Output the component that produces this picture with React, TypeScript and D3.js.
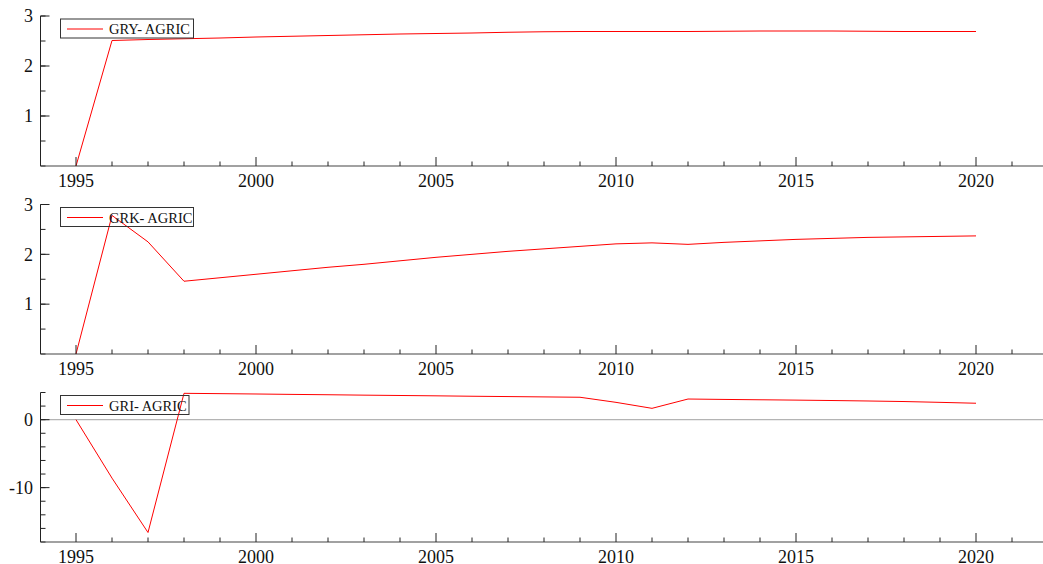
import React from "react";
import * as d3 from "d3";

const years = d3.range(1995, 2021);

const gry = [0, 2.51, 2.53, 2.545, 2.56, 2.58, 2.595, 2.61, 2.625, 2.64, 2.65, 2.66, 2.675, 2.685, 2.69, 2.69, 2.69, 2.69, 2.695, 2.7, 2.7, 2.7, 2.695, 2.69, 2.69, 2.69];
const grk = [0, 2.78, 2.25, 1.46, 1.53, 1.6, 1.67, 1.74, 1.8, 1.87, 1.94, 2.0, 2.06, 2.11, 2.16, 2.21, 2.23, 2.2, 2.24, 2.27, 2.3, 2.32, 2.34, 2.35, 2.36, 2.37];
const gri = [0, -8.6, -16.6, 3.88, 3.83, 3.78, 3.72, 3.67, 3.61, 3.56, 3.51, 3.45, 3.4, 3.35, 3.3, 2.55, 1.67, 3.04, 2.98, 2.93, 2.88, 2.82, 2.75, 2.67, 2.55, 2.42];

const xTickLabels = [1995, 2000, 2005, 2010, 2015, 2020];

const panels = [
  { name: "GRY- AGRIC", values: gry, domain: [0, 3], top: 16, bottom: 166, major: [1, 2, 3], minorStep: 0.5, zero: false, legendW: 133 },
  { name: "GRK- AGRIC", values: grk, domain: [0, 3], top: 204.5, bottom: 354, major: [1, 2, 3], minorStep: 0.5, zero: false, legendW: 133 },
  { name: "GRI- AGRIC", values: gri, domain: [-18, 4], top: 392.5, bottom: 542, major: [-10, 0], minorStep: 2, zero: true, legendW: 128.5 },
];

const W = 1043;
const H = 564;
const left = 40.5;
const fontStyle = { fontFamily: "Liberation Serif, Times New Roman, Times, serif" };

export default function App() {
  const x = d3.scaleLinear().domain([1994, 2022]).range([40, 1048]);
  const yearTicks = d3.range(1995, 2022);
  return (
    <svg width={W} height={H} style={{ position: "absolute", left: 0, top: 0, background: "#fff" }}>
      {panels.map((p, pi) => {
        const y = d3.scaleLinear().domain(p.domain).range([p.bottom, p.top]);
        const minor = d3.range(p.domain[0], p.domain[1] + 1e-9, p.minorStep);
        const line = d3
          .line<number>()
          .x((_, i) => x(years[i]))
          .y((v) => y(v));
        const ly = p.top + 13;
        return (
          <g key={pi}>
            {p.zero && (
              <line x1={left} x2={W} y1={y(0)} y2={y(0)} stroke="#b4b4b4" strokeWidth={1.2} />
            )}
            <path d={line(p.values) || ""} fill="none" stroke="#ff0000" strokeWidth={1} />
            <line x1={left} x2={left} y1={p.top} y2={p.bottom} stroke="#222" strokeWidth={1} />
            {minor.map((v) => (
              <line key={"m" + v} x1={left} x2={left + 5} y1={y(v)} y2={y(v)} stroke="#222" strokeWidth={1} />
            ))}
            {p.major.map((v) => (
              <g key={"M" + v}>
                <line x1={left} x2={left + 9} y1={y(v)} y2={y(v)} stroke="#222" strokeWidth={1} />
                <text x={33} y={y(v)} dy="0.35em" textAnchor="end" style={fontStyle} fontSize={18} fill="#111">
                  {v}
                </text>
              </g>
            ))}
            <line x1={left} x2={W} y1={p.bottom} y2={p.bottom} stroke="#444" strokeWidth={1.2} />
            {yearTicks.map((t) => (
              <line key={"xt" + t} x1={x(t)} x2={x(t)} y1={p.bottom} y2={p.bottom - (t % 5 === 0 ? 9 : 4.5)} stroke="#222" strokeWidth={1} />
            ))}
            {xTickLabels.map((t) => (
              <text key={"xl" + t} x={x(t)} y={p.bottom + 20.5} textAnchor="middle" style={fontStyle} fontSize={18} fill="#111">
                {t}
              </text>
            ))}
            <rect x={60.5} y={p.top + 3} width={p.legendW} height={19} fill="none" stroke="#333" strokeWidth={1} />
            <line x1={67} x2={103} y1={ly} y2={ly} stroke="#ff0000" strokeWidth={1} />
            <text x={109} y={ly + 5} style={fontStyle} fontSize={14.5} fill="#111">
              {p.name}
            </text>
          </g>
        );
      })}
    </svg>
  );
}
